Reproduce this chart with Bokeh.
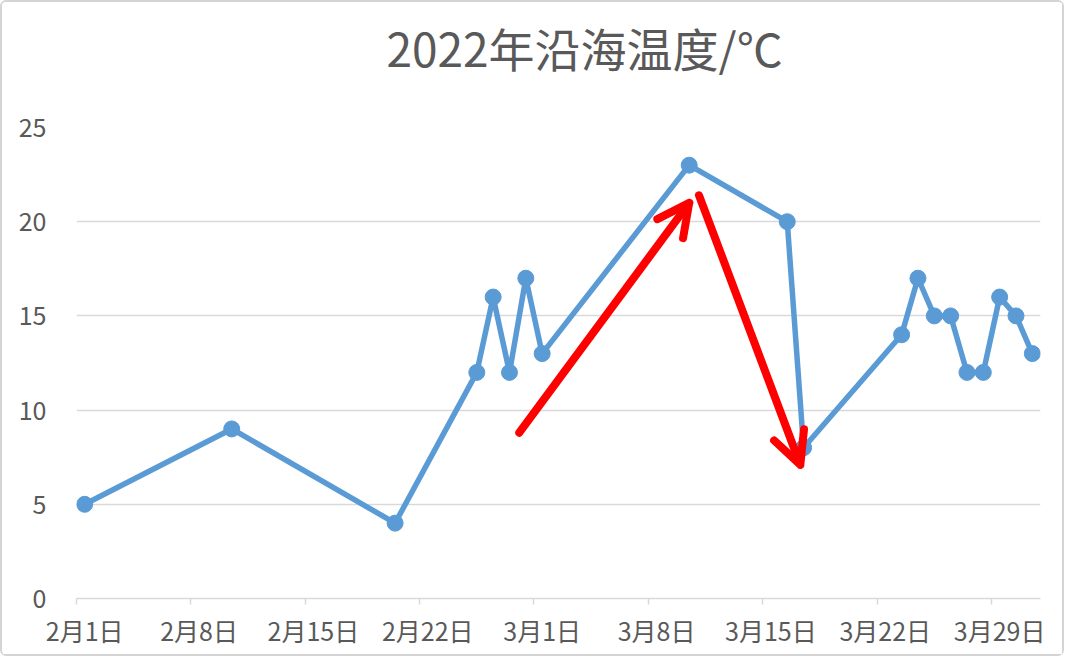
import pandas as pd
from bokeh.plotting import figure
from bokeh.models import (Range1d, FixedTicker, Arrow, OpenHead, ColumnDataSource, Title)
from bokeh.embed import file_html
from bokeh.resources import INLINE

# ---- data ----
dates = ["2022-02-01", "2022-02-10", "2022-02-20", "2022-02-25", "2022-02-26",
         "2022-02-27", "2022-02-28", "2022-03-01", "2022-03-10", "2022-03-16",
         "2022-03-17", "2022-03-23", "2022-03-24", "2022-03-25", "2022-03-26",
         "2022-03-27", "2022-03-28", "2022-03-29", "2022-03-30", "2022-03-31"]
temps = [5, 9, 4, 12, 16, 12, 17, 13, 23, 20, 8, 14, 17, 15, 15, 12, 12, 16, 15, 13]

tick_dates = ["2022-02-01", "2022-02-08", "2022-02-15", "2022-02-22", "2022-03-01",
              "2022-03-08", "2022-03-15", "2022-03-22", "2022-03-29"]
tick_labels = ["2月1日", "2月8日", "2月15日", "2月22日", "3月1日",
               "3月8日", "3月15日", "3月22日", "3月29日"]
axis_start = "2022-02-01"
axis_end = "2022-03-31"
y_ticks = [0, 5, 10, 15, 20, 25]

# annotation arrows (data units: day index, temperature)
arrow_x_start = [26.6, 37.6]
arrow_y_start = [8.8, 21.4]
arrow_x_end = [37.0, 43.8]
arrow_y_end = [21.0, 7.1]

title_text = "2022年沿海温度/℃"

# ---- transform ----
base = pd.Timestamp(axis_start)
day_idx = [(pd.Timestamp(d) - base).days for d in dates]
tick_idx = [(pd.Timestamp(d) - base).days for d in tick_dates]
n_days = (pd.Timestamp(axis_end) - base).days
boundary_ticks = [t - 0.5 for t in tick_idx]

FONT = "Noto Sans CJK SC"
TXT = "#595959"
GRID = "#d9d9d9"
BLUE = "#5b9bd5"

p = figure(width=1064, height=656, output_backend="svg", toolbar_location=None,
           x_range=Range1d(-0.5, n_days + 0.5), y_range=Range1d(0, 25),
           min_border_left=74, min_border_right=26, min_border_top=125,
           min_border_bottom=60)
p.styles = {"border": "2px solid #d4d4d4", "border-radius": "6px"}
p.outline_line_color = None
p.background_fill_color = "white"
p.border_fill_color = "white"

# spacer between the frame and the title
p.add_layout(Title(text=" ", text_font_size="37px", standoff=0), "above")

p.title.text = title_text
p.title.align = "left"
p.title.offset = 310
p.title.standoff = 10
p.title.text_font = FONT
p.title.text_font_size = "46px"
p.title.text_font_style = "normal"
p.title.text_color = TXT

src = ColumnDataSource(dict(x=day_idx, y=temps))
p.line("x", "y", source=src, line_color=BLUE, line_width=5.5, line_join="round")
p.scatter("x", "y", source=src, size=16, fill_color=BLUE, line_color=BLUE)

# x axis
xa = p.xaxis[0]
xa.ticker = FixedTicker(ticks=tick_idx, minor_ticks=boundary_ticks)
xa.major_label_overrides = {t: l for t, l in zip(tick_idx, tick_labels)}
xa.major_tick_line_color = None
xa.major_tick_out = 0
xa.major_tick_in = 0
xa.minor_tick_line_color = GRID
xa.minor_tick_line_width = 1.5
xa.minor_tick_out = 6
xa.minor_tick_in = 0
xa.axis_line_color = GRID
xa.axis_line_width = 1.5
xa.major_label_text_font = FONT
xa.major_label_text_font_size = "25px"
xa.major_label_text_color = TXT
xa.major_label_standoff = 7

# y axis
ya = p.yaxis[0]
ya.ticker = FixedTicker(ticks=y_ticks)
ya.axis_line_color = None
ya.major_tick_line_color = None
ya.minor_tick_line_color = None
ya.major_label_text_font = FONT
ya.major_label_text_font_size = "25px"
ya.major_label_text_color = TXT
ya.major_label_standoff = 24

p.xgrid.grid_line_color = None
p.ygrid.ticker = FixedTicker(ticks=y_ticks[1:])
p.ygrid.grid_line_color = GRID
p.ygrid.grid_line_width = 1.5

# arrows
for xs, ys, xe, ye in zip(arrow_x_start, arrow_y_start, arrow_x_end, arrow_y_end):
    p.add_layout(Arrow(x_start=xs, y_start=ys, x_end=xe, y_end=ye,
                       line_color="#ff0000", line_width=8, line_cap="round",
                       end=OpenHead(size=32, line_color="#ff0000", line_width=8,
                                    line_cap="round", line_join="round")))

open("out.html", "w").write(file_html(p, INLINE))
